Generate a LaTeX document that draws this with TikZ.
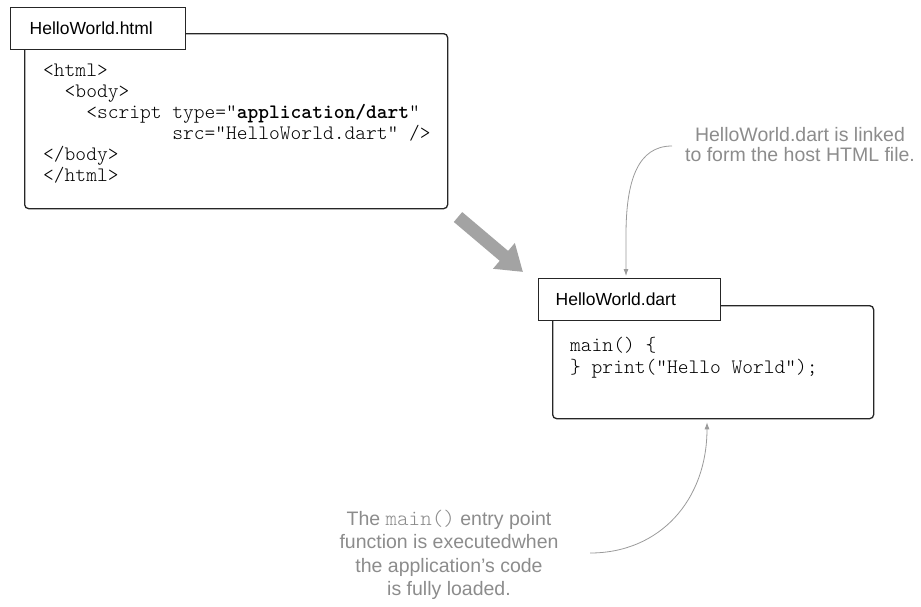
\documentclass[tikz,border=0pt]{standalone}
\usepackage{fontspec}
\setmainfont{Liberation Sans}
\setmonofont{Latin Modern Mono Light}
\usetikzlibrary{arrows.meta}
\definecolor{notegray}{HTML}{8C8C8C}
\definecolor{linegray}{HTML}{9A9A9A}
\definecolor{bigarrow}{HTML}{A3A3A3}
\begin{document}
\begin{tikzpicture}[x=1pt,y=-1pt,
  filebox/.style={draw=black!85, line width=1.3pt, rounded corners=4pt, fill=white, inner sep=0pt, anchor=north west},
  tab/.style={draw=black!85, line width=1.3pt, fill=white, anchor=north west, minimum height=42pt, inner ysep=0pt, align=left, font=\fontsize{17.5}{20}\selectfont},
  code/.style={anchor=base west, inner sep=0pt, align=left, font=\fontsize{20.5}{21}\selectfont\ttfamily},
  note/.style={text=notegray, inner sep=0pt, align=center, font=\fontsize{19.5}{20}\selectfont},
  pointer/.style={draw=linegray, line width=0.8pt, -{Latex[length=7pt,width=5pt]}},
  flow/.style={draw=bigarrow, line width=13pt, -{Triangle[length=25pt,width=32pt]}}]
\useasboundingbox (0,0) rectangle (921,606);

% HTML file
\node[filebox, minimum width=423pt, minimum height=175pt] (b1) at (24,33) {};
\node[tab, minimum width=175pt, inner xsep=19pt, text width=137pt] (t1) at (10,7) {HelloWorld.html};
\node[code] (c1) at (43,181) {<html>\\
\phantom{xx}<body>\\
\phantom{xxxx}<script type="\textbf{application/dart}"\\
\phantom{xxxxxxxxxxxx}src="HelloWorld.dart" />\\
</body>\\
</html>};

% Dart file
\node[filebox, minimum width=321pt, minimum height=113pt] (b2) at (552,305) {};
\node[tab, minimum width=182pt, inner xsep=17pt, text width=148pt] (t2) at (538,278) {HelloWorld.dart};
\node[code, font=\fontsize{20.5}{22}\selectfont\ttfamily] (c2) at (570,373) {main() \{\\
\} print("Hello World");};

% big flow arrow
\coordinate (g1) at (458,217);
\coordinate (g2) at (523,272);
\draw[flow] (g1) -- (g2);

% notes
\node[note] (n1) at (800,145) {HelloWorld.dart is linked\\to form the host HTML file.};
\node[note, font=\fontsize{19.5}{23.5}\selectfont] (n2) at (449,555) {The {\fontsize{22}{23.5}\selectfont\ttfamily main()} entry point\\function is executedwhen\\the application's code\\is fully loaded.};

\coordinate (p1) at (672,146);
\coordinate (x1) at (626,0);
\draw[pointer, shorten >=2pt] (p1) .. controls (638,146) and (626,180) .. (626,235) -- (t2.north -| x1);

\coordinate (p2) at (590,553);
\coordinate (x2) at (707,0);
\draw[pointer, shorten >=3pt] (p2) .. controls (660,553) and (707,500) .. (b2.south -| x2);
\end{tikzpicture}
\end{document}
